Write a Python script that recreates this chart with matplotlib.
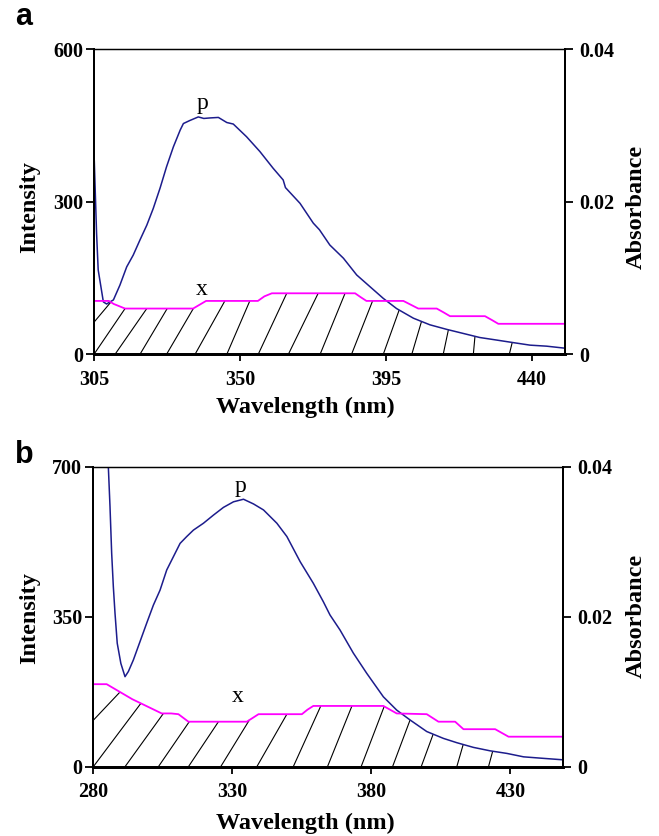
import numpy as np
import matplotlib
matplotlib.use("Agg")
import matplotlib.pyplot as plt

plt.rcParams['font.family'] = ['Liberation Serif', 'DejaVu Serif']

# ---------------- Panel a data ----------------
a_p_wl = [305, 305.7, 306.2, 307.8, 308.8, 310.9, 312.9, 315.0, 317.0, 319.1, 321.2, 323.2,
          325.3, 327.3, 329.4, 331.5, 332.5, 334.5, 337.1, 338.8, 340.7, 343.3, 345.9,
          347.9, 352.0, 356.1, 360.2, 363.3, 364.0, 368.5, 372.6, 374.5, 377.7, 381.9,
          386.0, 390.1, 394.2, 398.3, 403.5, 408.6, 413.8, 418.9, 424.0, 429.2, 434.3,
          439.5, 444.6, 450.3]
a_p_int = [380, 238, 166, 103, 99, 107, 136, 172, 195, 225, 254, 287,
           327, 369, 408, 441, 454, 460, 467, 464, 465, 466, 456,
           453, 428, 399, 366, 343, 328, 297, 258, 245, 215, 189,
           156, 133, 110, 90, 71, 58, 49, 41, 33, 28, 23,
           18, 16, 12]
a_x_wl = [305, 309.5, 311.0, 314.5, 335.5, 337.5, 339.5, 355.5, 357.5, 359.8, 385.5, 387.2,
          389.0, 400.4, 402.7, 405.0, 410.7, 412.8, 414.8, 425.6, 427.7, 429.7, 450.3]
a_x_abs = [0.0070, 0.0070, 0.0066, 0.0060, 0.0060, 0.0065, 0.0070, 0.0070, 0.0076, 0.0080,
           0.0080, 0.0075, 0.0070, 0.0070, 0.0065, 0.0060, 0.0060, 0.0055, 0.0050, 0.0050,
           0.0045, 0.0040, 0.0040]
a_hatch_bottom = [296.6, 304.9, 311.4, 319.1, 327.3, 336.1, 345.9, 355.6, 364.9, 374.7,
                  384.4, 394.2, 403.0, 412.7, 422.0, 433.1]
a_hatch_top = [310.1, 314.5, 321.2, 327.5, 335.6, 345.3, 353.0, 364.4, 374.1, 382.4,
               390.9, 399.1, 406.0, 414.3, 422.5, 434.0]
a_xticks = [305, 350, 395, 440]
a_yticks = [0, 300, 600]

# ---------------- Panel b data ----------------
b_p_wl = [284.6, 285.4, 286.0, 286.6, 287.2, 287.8, 288.6, 289.9, 291.4, 292.6, 294.4, 296.8,
          299.2, 301.6, 304.0, 306.4, 308.8, 311.2, 313.6, 316.0, 319.6, 323.2, 326.8,
          330.4, 334.0, 337.6, 341.2, 346.0, 349.6, 354.4, 359.1, 362.7, 365.1, 368.7,
          373.5, 378.3, 384.3, 389.1, 393.9, 399.9, 405.9, 410.7, 416.7, 422.7, 428.7,
          434.7, 440.7, 449.0]
b_p_int = [800, 700, 607, 498, 420, 358, 288, 241, 210, 222, 249, 292,
           335, 377, 412, 459, 490, 521, 537, 552, 568, 587, 605,
           618, 624, 613, 599, 568, 537, 478, 428, 385, 354, 319,
           265, 218, 163, 132, 109, 82, 66, 56, 45, 37, 31,
           23, 20, 16]
b_x_wl = [280, 284.8, 294.0, 304.6, 308.0, 310.6, 312.4, 314.2, 335.2, 337.3, 339.4, 355.0,
          357.0, 359.1, 384.3, 386.7, 389.1, 399.9, 402.0, 404.1, 410.1, 411.6, 413.1,
          424.5, 426.9, 429.3, 449.0]
b_x_abs = [0.0110, 0.0110, 0.0090, 0.0071, 0.0071, 0.0070, 0.0065, 0.0060, 0.0060, 0.0065,
           0.0070, 0.0070, 0.0076, 0.0081, 0.0081, 0.0076, 0.0071, 0.0070, 0.0065, 0.0060,
           0.0060, 0.0055, 0.0050, 0.0050, 0.0045, 0.0040, 0.0040]
b_hatch_bottom = [264.2, 280.0, 291.4, 303.4, 314.2, 325.8, 338.8, 351.9, 364.2, 376.3,
                  387.6, 397.9, 410.7, 422.1]
b_hatch_top = [289.6, 297.1, 305.2, 314.5, 325.0, 336.1, 349.6, 361.8, 373.0, 384.6,
               393.9, 402.2, 413.0, 423.6]
b_xticks = [280, 330, 380, 430]
b_yticks = [0, 350, 700]

abs_ticks = [0, 0.02, 0.04]
abs_ticklabels = ['0', '0.02', '0.04']

BLUE = '#1c1c8c'
MAGENTA = '#ff00ff'

fig = plt.figure(figsize=(6.59, 8.36), dpi=100)


def panel(rect, p_wl, p_int, x_wl, x_abs, hb, ht, xticks, yticks, xlim, ymax,
          p_lbl, x_lbl, lbl_coords):
    ax = fig.add_axes(rect)
    ax2 = ax.twinx()
    scale = ymax / 0.04
    ax.set_xlim(*xlim)
    ax.set_ylim(0, ymax)
    ax2.set_ylim(0, 0.04)

    # hatch lines under the lower of the two curves
    grid = np.linspace(xlim[0], xlim[1], 2000)
    lower = np.minimum(np.interp(grid, p_wl, p_int),
                       np.interp(grid, x_wl, np.array(x_abs) * scale))
    for b, t in zip(hb, ht):
        ytop = np.interp(t, grid, lower)
        ax.plot([b, t], [0, ytop], color='black', lw=0.8, solid_capstyle='butt')

    ax.plot(p_wl, p_int, color=BLUE, lw=1.1)
    ax2.plot(x_wl, x_abs, color=MAGENTA, lw=1.3)

    ax.text(p_lbl[0], p_lbl[1], 'p', ha='center', va='center', fontsize=17)
    ax.text(x_lbl[0], x_lbl[1], 'x', ha='center', va='center', fontsize=17)

    ax.set_xticks(xticks)
    ax.set_yticks(yticks)
    ax2.set_yticks(abs_ticks)
    ax2.set_yticklabels(abs_ticklabels)
    for a in (ax, ax2):
        a.tick_params(direction='out', length=6, width=1.3, labelsize=14.5, pad=3)
        for lab in a.get_xticklabels() + a.get_yticklabels():
            lab.set_fontweight('bold')
    ax.tick_params(axis='x', length=5, pad=6)
    ax.tick_params(axis='y', pad=2)
    ax2.tick_params(axis='y', pad=4)

    for a in (ax, ax2):
        a.spines['bottom'].set_linewidth(2.0)
        a.spines['left'].set_linewidth(1.4)
        a.spines['right'].set_linewidth(1.4)
        a.spines['top'].set_linewidth(0.9)

    ax.set_xlabel('Wavelength (nm)', fontsize=17.5, fontweight='bold')
    ax.set_ylabel('Intensity', fontsize=17.5, fontweight='bold')
    ax2.set_ylabel('Absorbance', fontsize=17.5, fontweight='bold')
    ax.xaxis.label.set_va('center')
    ax.yaxis.label.set_va('center')
    ax2.yaxis.label.set_va('center')
    ax.xaxis.set_label_coords(*lbl_coords[0])
    ax.yaxis.set_label_coords(*lbl_coords[1])
    ax2.yaxis.set_label_coords(*lbl_coords[2])
    return ax


panel([0.1431, 0.5762, 0.7143, 0.3648], a_p_wl, a_p_int, a_x_wl, a_x_abs,
      a_hatch_bottom, a_hatch_top, a_xticks, a_yticks, (305, 450.3), 600,
      (338.5, 494), (338.2, 127),
      [(0.449, -0.173), (-0.1365, 0.483), (1.152, 0.484)])

panel([0.1416, 0.0829, 0.7132, 0.3589], b_p_wl, b_p_int, b_x_wl, b_x_abs,
      b_hatch_bottom, b_hatch_top, b_xticks, b_yticks, (280, 449), 700,
      (332.8, 653), (331.8, 163),
      [(0.452, -0.188), (-0.135, 0.495), (1.156, 0.504)])

fig.text(15 / 659, 1 - 25 / 836, 'a', fontsize=22, fontweight='bold',
         family=['Liberation Sans', 'DejaVu Sans'], ha='left', va='baseline')
fig.text(15 / 659, 1 - 463 / 836, 'b', fontsize=22, fontweight='bold',
         family=['Liberation Sans', 'DejaVu Sans'], ha='left', va='baseline')

fig.savefig('out.png', dpi=100)
